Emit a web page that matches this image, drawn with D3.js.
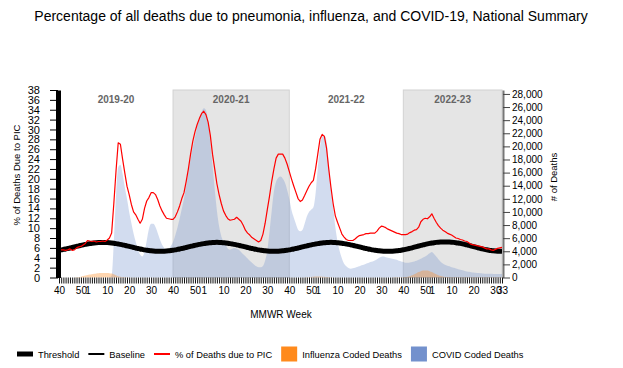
<!DOCTYPE html>
<html>
<head>
<meta charset="utf-8">
<script src="https://cdn.jsdelivr.net/npm/d3@7"></script>
<style>
body { margin: 0; background: #fff; }
svg text { font-family: "Liberation Sans", Arial, sans-serif; }
</style>
</head>
<body>
<svg id="chart" width="623" height="368"></svg>
<script>
var TITLE = "Percentage of all deaths due to pneumonia, influenza, and COVID-19, National Summary";

// MMWR weeks on the axis: [year, first week, last week]
var weekRuns = [[2019, 40, 52], [2020, 1, 53], [2021, 1, 52], [2022, 1, 52], [2023, 1, 33]];
var labelWeeks = [1, 10, 20, 30, 40, 50];
var seasons = ["2019-20", "2020-21", "2021-22", "2022-23"];
var seasonShaded = [false, true, false, true];

var pctTicks = [0, 2, 4, 6, 8, 10, 12, 14, 16, 18, 20, 22, 24, 26, 28, 30, 32, 34, 36, 38];
var deathTicks = [0, 2000, 4000, 6000, 8000, 10000, 12000, 14000, 16000, 18000, 20000, 22000, 24000, 26000, 28000];

// % of deaths due to PIC, one value per week
var pic = [
  5.5, 5.6, 5.6, 5.5, 5.6, 5.8, 5.5, 5.6, 6.0, 6.2,
  6.3, 6.6, 6.9, 7.5, 7.4, 7.3, 7.4, 7.2, 7.3, 7.3,
  7.4, 7.3, 7.6, 8.0, 9.0, 15.0, 21.6, 27.3, 27.0, 24.0,
  21.2, 18.5, 16.8, 14.8, 13.3, 12.7, 11.8, 11.0, 11.8, 14.0,
  15.5, 16.2, 17.2, 17.2, 16.8, 15.8, 14.5, 13.5, 12.7, 12.0,
  11.9, 11.8, 11.8, 12.3, 13.3, 14.5, 16.0, 17.2, 19.5, 22.0,
  25.0, 27.6, 29.5, 31.0, 32.2, 33.2, 33.7, 33.0, 31.5, 28.8,
  25.0, 22.0, 19.0, 16.8, 15.0, 13.5, 12.6, 11.9, 11.6, 11.7,
  11.8, 12.2, 11.8, 11.4, 10.6, 9.6, 9.0, 8.6, 8.1, 7.8,
  7.5, 7.2, 7.5, 8.8, 11.0, 13.8, 16.5, 19.5, 22.0, 24.2,
  25.0, 25.0, 25.0, 24.2, 23.0, 21.5, 20.0, 18.6, 17.3, 16.0,
  15.4, 15.7, 16.6, 17.6, 18.5, 19.2, 19.7, 22.0, 25.0, 28.0,
  29.0, 28.6, 26.2, 22.0, 18.3, 15.0, 12.5, 11.2, 10.0, 8.8,
  8.2, 7.7, 7.5, 7.5, 7.5, 7.8, 8.2, 8.5, 8.6, 8.7,
  8.9, 8.9, 9.0, 9.0, 9.0, 9.4, 10.0, 10.4, 10.3, 10.1,
  9.8, 9.6, 9.4, 9.2, 9.0, 8.9, 8.7, 8.7, 8.7, 8.8,
  9.1, 9.3, 9.6, 9.7, 10.2, 11.3, 11.8, 12.0, 11.9, 12.3,
  12.9, 12.0, 11.2, 10.5, 10.0, 9.6, 9.3, 9.0, 8.8, 8.6,
  8.3, 8.0, 7.9, 7.7, 7.6, 7.4, 7.3, 7.0, 6.7, 6.6,
  6.5, 6.4, 6.3, 6.2, 6.0, 5.8, 5.8, 5.6, 5.5, 5.7,
  5.9, 6.0, 6.1
];

// epidemic threshold (%), one value per week
var threshold = [
  5.53, 5.60, 5.69, 5.78, 5.88, 5.98, 6.09, 6.20, 6.31, 6.42, 6.52, 6.62, 6.71, 6.79, 6.87, 6.94, 7.00, 7.04, 7.07, 7.09, 7.10,
  7.09, 7.07, 7.04, 7.00, 6.94, 6.87, 6.79, 6.71, 6.62, 6.52, 6.42, 6.31, 6.20, 6.09, 5.98, 5.88, 5.78, 5.69, 5.60, 5.53, 5.46, 5.40, 5.36, 5.33, 5.31, 5.30,
  5.31, 5.33, 5.36, 5.40, 5.46, 5.53, 5.60, 5.69, 5.78, 5.88, 5.98, 6.09, 6.20, 6.31, 6.42, 6.52, 6.62, 6.71, 6.79, 6.87, 6.94, 7.00, 7.04, 7.08, 7.11, 7.12,
  7.11, 7.08, 7.04, 7.00, 6.94, 6.87, 6.79, 6.71, 6.62, 6.52, 6.42, 6.31, 6.20, 6.09, 5.98, 5.88, 5.78, 5.69, 5.60, 5.53, 5.46, 5.40, 5.36, 5.33, 5.31, 5.30,
  5.31, 5.33, 5.36, 5.40, 5.46, 5.53, 5.60, 5.69, 5.78, 5.88, 5.98, 6.09, 6.20, 6.31, 6.42, 6.52, 6.62, 6.71, 6.79, 6.87, 6.94, 7.00, 7.04, 7.08, 7.11, 7.12,
  7.11, 7.08, 7.04, 7.00, 6.94, 6.87, 6.79, 6.71, 6.62, 6.52, 6.42, 6.31, 6.20, 6.09, 5.98, 5.88, 5.78, 5.69, 5.60, 5.53, 5.46, 5.40, 5.36, 5.33, 5.31, 5.30,
  5.31, 5.33, 5.36, 5.40, 5.46, 5.53, 5.61, 5.70, 5.80, 5.91, 6.02, 6.14, 6.26, 6.38, 6.50, 6.61, 6.72, 6.82, 6.91, 6.99, 7.06, 7.12, 7.16, 7.19, 7.21, 7.22,
  7.21, 7.19, 7.16, 7.12, 7.06, 6.99, 6.91, 6.82, 6.72, 6.61, 6.50, 6.38, 6.26, 6.14, 6.02, 5.91, 5.80, 5.70, 5.61, 5.53, 5.46, 5.40, 5.36, 5.33, 5.31, 5.30
];
// baseline sits under the threshold line, the two coincide in this view
var baseline = threshold;

// COVID coded deaths per week
var covid = [
  0, 0, 0, 0, 0, 0, 0, 0, 0, 0,
  0, 0, 0, 0, 0, 0, 0, 0, 0, 0,
  0, 0, 0, 0, 300, 5500, 12500, 16800, 17200, 15800,
  13800, 12000, 10000, 8300, 6700, 5400, 4200, 3500, 3200, 3900,
  5600, 7400, 8200, 8200, 7700, 6800, 5800, 5000, 4500, 4100,
  4300, 4800, 5400, 6400, 7600, 9000, 10500, 12000, 14000, 16000,
  18000, 19800, 21300, 22900, 24300, 25200, 25800, 25500, 23800, 20600,
  17000, 13500, 10200, 7800, 6300, 5500, 5000, 4400, 4250, 4400,
  4500, 4400, 4250, 3900, 3550, 3250, 2900, 2550, 2250, 1950,
  1700, 1550, 1550, 1750, 2600, 4100, 7000, 10200, 13100, 14600,
  15200, 15400, 15100, 14500, 13400, 12000, 10300, 9200, 8200, 7300,
  7050, 7250, 8200, 9300, 10000, 10350, 10700, 12800, 16700, 19800,
  21500, 21700, 20700, 17500, 13800, 10800, 7700, 5500, 4000, 2900,
  2100, 1700, 1450, 1350, 1400, 1500, 1600, 1700, 1850, 1950,
  2100, 2200, 2350, 2450, 2600, 2800, 3000, 3150, 3200, 3100,
  3000, 2950, 2850, 2800, 2700, 2550, 2450, 2350, 2250, 2250,
  2300, 2350, 2450, 2550, 2700, 2850, 3050, 3200, 3450, 3700,
  3900, 3600, 3200, 2800, 2400, 2150, 1950, 1800, 1700, 1580,
  1470, 1370, 1270, 1170, 1090, 1010, 930, 870, 810, 760,
  710, 670, 640, 610, 590, 575, 565, 555, 550, 545,
  540, 535, 530
];

// influenza coded deaths per week
var flu = [
  0, 0, 0, 0, 0, 0, 0, 0, 20, 60,
  130, 220, 310, 390, 450, 510, 560, 610, 640, 670,
  690, 700, 690, 660, 600, 480, 330, 200, 110, 60,
  30, 20, 10, 10, 10, 5, 5, 5, 5, 5,
  5, 5, 5, 5, 5, 5, 5, 5, 5, 5,
  5, 5, 5, 5, 5, 5, 5, 5, 5, 5,
  5, 5, 5, 5, 5, 5, 5, 5, 5, 5,
  5, 5, 5, 5, 5, 5, 5, 5, 5, 5,
  5, 5, 5, 5, 5, 5, 5, 5, 5, 5,
  5, 5, 5, 5, 5, 5, 5, 5, 5, 5,
  5, 5, 5, 5, 5, 5, 5, 5, 5, 5,
  5, 8, 15, 30, 50, 80, 110, 135, 150, 150,
  130, 100, 60, 35, 20, 10, 10, 10, 10, 10,
  10, 10, 10, 10, 10, 10, 10, 10, 10, 10,
  10, 10, 10, 10, 10, 10, 10, 10, 10, 10,
  10, 10, 15, 20, 25, 30, 40, 50, 70, 110,
  200, 330, 480, 650, 820, 960, 1050, 1080, 1050, 960,
  820, 650, 480, 330, 220, 140, 90, 60, 45, 35,
  30, 28, 25, 24, 22, 20, 20, 20, 20, 20,
  20, 20, 20, 20, 20, 20, 20, 20, 20, 20,
  20, 20, 20
];

var legendItems = [
  {name: "Threshold", kind: "line", color: "#000", width: 5},
  {name: "Baseline", kind: "line", color: "#000", width: 2},
  {name: "% of Deaths due to PIC", kind: "line", color: "#ff0000", width: 2},
  {name: "Influenza Coded Deaths", kind: "box", color: "#ff8a1c"},
  {name: "COVID Coded Deaths", kind: "box", color: "#7391cd"}
];

// expand week runs into one entry per week
var weeks = [];
weekRuns.forEach(function(r) {
  for (var w = r[1]; w <= r[2]; w++) weeks.push(w);
});
var lastIndex = weeks.length - 1;

var svg = d3.select("#chart");
var PLOT_TOP = 90, PLOT_BOTTOM = 277.5;

var x = d3.scaleLinear().domain([0, lastIndex]).range([59, 502]);
var y = d3.scaleLinear().domain([0, 38]).range([PLOT_BOTTOM, PLOT_TOP]);
var y2 = d3.scaleLinear().domain([0, 28600]).range([PLOT_BOTTOM, PLOT_TOP]);

// title
svg.append("text")
  .attr("x", 311).attr("y", 21)
  .attr("text-anchor", "middle")
  .style("font-size", "14px")
  .text(TITLE);

// season boxes, each season starts at week 40
var starts = [];
weeks.forEach(function(w, i) { if (w === 40) starts.push(i); });
seasons.forEach(function(s, k) {
  var a = starts[k];
  var b = k + 1 < starts.length ? starts[k + 1] : lastIndex;
  if (seasonShaded[k]) {
    svg.append("rect")
      .attr("x", x(a)).attr("y", PLOT_TOP)
      .attr("width", x(b) - x(a)).attr("height", PLOT_BOTTOM - PLOT_TOP)
      .style("fill", "#e5e5e5")
      .style("stroke", "#d2d2d2")
      .style("stroke-width", 1);
  }
  svg.append("text")
    .attr("x", (x(a) + x(b)) / 2).attr("y", 103)
    .attr("text-anchor", "middle")
    .style("font-size", "10px")
    .style("font-weight", "bold")
    .style("fill", "#666")
    .text(s);
});

// areas on the deaths axis
var idx = d3.range(weeks.length);
var covidArea = d3.area()
  .x(function(i) { return x(i); })
  .y0(PLOT_BOTTOM)
  .y1(function(i) { return y2(covid[i]); })
  .curve(d3.curveMonotoneX);
var fluArea = d3.area()
  .x(function(i) { return x(i); })
  .y0(PLOT_BOTTOM)
  .y1(function(i) { return y2(flu[i]); })
  .curve(d3.curveMonotoneX);

svg.append("path").datum(idx)
  .attr("d", covidArea)
  .style("fill", "#7391cd").style("fill-opacity", 0.32);
svg.append("path").datum(idx)
  .attr("d", fluArea)
  .style("fill", "#ff8a1c").style("fill-opacity", 0.35);

function pctLine(arr) {
  return d3.line()
    .x(function(i) { return x(i); })
    .y(function(i) { return y(arr[i]); });
}

svg.append("path").datum(idx)
  .attr("d", pctLine(threshold).curve(d3.curveMonotoneX))
  .style("fill", "none").style("stroke", "#000").style("stroke-width", 5);
svg.append("path").datum(idx)
  .attr("d", pctLine(baseline).curve(d3.curveMonotoneX))
  .style("fill", "none").style("stroke", "#000").style("stroke-width", 1.5);
svg.append("path").datum(idx)
  .attr("d", pctLine(pic))
  .style("fill", "none").style("stroke", "#ff0000").style("stroke-width", 1.2)
  .style("stroke-linejoin", "round");

// left axis
var gl = svg.append("g")
  .attr("transform", "translate(58,0)")
  .call(d3.axisLeft(y).tickValues(pctTicks).tickSize(8).tickPadding(10).tickSizeOuter(0));
gl.select(".domain").style("stroke", "#000").style("stroke-width", 5);
gl.selectAll("text").style("font-size", "11px").style("fill", "#000").style("font-family", "Liberation Sans, Arial, sans-serif");

// right axis
var gr = svg.append("g")
  .attr("transform", "translate(503,0)")
  .call(d3.axisRight(y2).tickValues(deathTicks).tickFormat(d3.format(",")).tickSize(7).tickPadding(2).tickSizeOuter(0));
gr.select(".domain").style("stroke", "#777").style("stroke-width", 2);
gr.selectAll(".tick line").style("stroke", "#444");
gr.selectAll("text").style("font-size", "10px").style("fill", "#000").style("font-family", "Liberation Sans, Arial, sans-serif");

// bottom axis, a tick per week
var gb = svg.append("g")
  .attr("transform", "translate(0," + PLOT_BOTTOM + ")")
  .call(d3.axisBottom(x).tickValues(idx).tickSize(6).tickPadding(3).tickSizeOuter(0)
    .tickFormat(function(i) {
      return (labelWeeks.indexOf(weeks[i]) >= 0 || i === lastIndex) ? weeks[i] : "";
    }));
gb.select(".domain").remove();
gb.selectAll(".tick line").style("stroke", "#111");
gb.selectAll("text").style("font-size", "10px").style("fill", "#000").style("font-family", "Liberation Sans, Arial, sans-serif");

// axis titles
svg.append("text")
  .attr("transform", "translate(20,175) rotate(-90)")
  .attr("text-anchor", "middle")
  .style("font-size", "9.5px")
  .text("% of Deaths Due to PIC");
svg.append("text")
  .attr("transform", "translate(557,177) rotate(-90)")
  .attr("text-anchor", "middle")
  .style("font-size", "9.5px")
  .text("# of Deaths");
svg.append("text")
  .attr("x", 281).attr("y", 318)
  .attr("text-anchor", "middle")
  .style("font-size", "10px")
  .text("MMWR Week");

// legend
var lx = 17, ly = 354;
legendItems.forEach(function(d) {
  if (d.kind === "line") {
    svg.append("line")
      .attr("x1", lx).attr("x2", lx + 16)
      .attr("y1", ly).attr("y2", ly)
      .style("stroke", d.color).style("stroke-width", d.width);
  } else {
    svg.append("rect")
      .attr("x", lx).attr("y", ly - 7.5)
      .attr("width", 16).attr("height", 15)
      .style("fill", d.color);
  }
  var t = svg.append("text")
    .attr("x", lx + 21).attr("y", ly + 3.5)
    .style("font-size", "9.3px")
    .text(d.name);
  lx += 21 + t.node().getComputedTextLength() + 9;
});
</script>
</body>
</html>
